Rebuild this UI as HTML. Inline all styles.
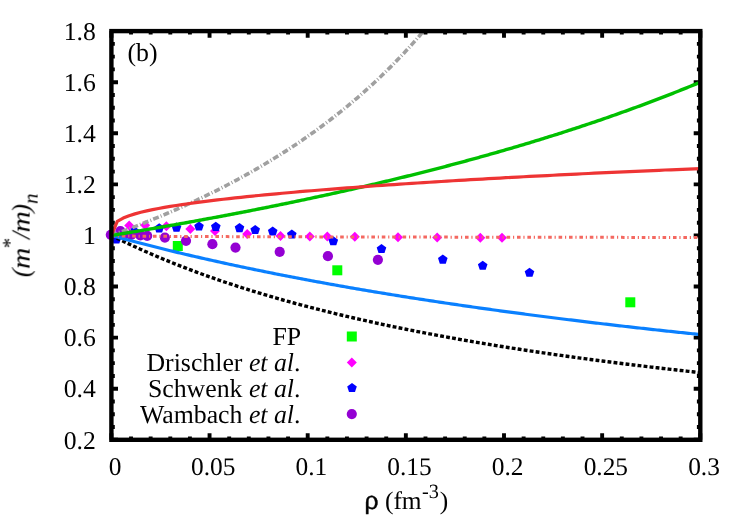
<!DOCTYPE html>
<html><head><meta charset="utf-8"><title>chart</title>
<style>html,body{margin:0;padding:0;background:#fff;}svg{display:block;}text{font-family:"Liberation Serif",serif;fill:#000;text-rendering:geometricPrecision;}</style></head><body>
<svg width="747" height="523" viewBox="0 0 747 523">
<rect width="747" height="523" fill="#fff"/>
<defs><clipPath id="c"><rect x="103.40" y="31.10" width="596.90" height="408.70"/></clipPath></defs>
<path d="M111.40,439.80 v-6.60 M111.40,31.10 v6.60 M131.03,439.80 v-3.40 M131.03,31.10 v3.40 M150.66,439.80 v-3.40 M150.66,31.10 v3.40 M170.29,439.80 v-3.40 M170.29,31.10 v3.40 M189.92,439.80 v-3.40 M189.92,31.10 v3.40 M209.55,439.80 v-6.60 M209.55,31.10 v6.60 M229.18,439.80 v-3.40 M229.18,31.10 v3.40 M248.81,439.80 v-3.40 M248.81,31.10 v3.40 M268.44,439.80 v-3.40 M268.44,31.10 v3.40 M288.07,439.80 v-3.40 M288.07,31.10 v3.40 M307.70,439.80 v-6.60 M307.70,31.10 v6.60 M327.33,439.80 v-3.40 M327.33,31.10 v3.40 M346.96,439.80 v-3.40 M346.96,31.10 v3.40 M366.59,439.80 v-3.40 M366.59,31.10 v3.40 M386.22,439.80 v-3.40 M386.22,31.10 v3.40 M405.85,439.80 v-6.60 M405.85,31.10 v6.60 M425.48,439.80 v-3.40 M425.48,31.10 v3.40 M445.11,439.80 v-3.40 M445.11,31.10 v3.40 M464.74,439.80 v-3.40 M464.74,31.10 v3.40 M484.37,439.80 v-3.40 M484.37,31.10 v3.40 M504.00,439.80 v-6.60 M504.00,31.10 v6.60 M523.63,439.80 v-3.40 M523.63,31.10 v3.40 M543.26,439.80 v-3.40 M543.26,31.10 v3.40 M562.89,439.80 v-3.40 M562.89,31.10 v3.40 M582.52,439.80 v-3.40 M582.52,31.10 v3.40 M602.15,439.80 v-6.60 M602.15,31.10 v6.60 M621.78,439.80 v-3.40 M621.78,31.10 v3.40 M641.41,439.80 v-3.40 M641.41,31.10 v3.40 M661.04,439.80 v-3.40 M661.04,31.10 v3.40 M680.67,439.80 v-3.40 M680.67,31.10 v3.40 M700.30,439.80 v-6.60 M700.30,31.10 v6.60 M111.40,439.80 h6.60 M700.30,439.80 h-6.60 M111.40,427.03 h3.40 M700.30,427.03 h-3.40 M111.40,414.26 h3.40 M700.30,414.26 h-3.40 M111.40,401.48 h3.40 M700.30,401.48 h-3.40 M111.40,388.71 h6.60 M700.30,388.71 h-6.60 M111.40,375.94 h3.40 M700.30,375.94 h-3.40 M111.40,363.17 h3.40 M700.30,363.17 h-3.40 M111.40,350.40 h3.40 M700.30,350.40 h-3.40 M111.40,337.62 h6.60 M700.30,337.62 h-6.60 M111.40,324.85 h3.40 M700.30,324.85 h-3.40 M111.40,312.08 h3.40 M700.30,312.08 h-3.40 M111.40,299.31 h3.40 M700.30,299.31 h-3.40 M111.40,286.54 h6.60 M700.30,286.54 h-6.60 M111.40,273.77 h3.40 M700.30,273.77 h-3.40 M111.40,260.99 h3.40 M700.30,260.99 h-3.40 M111.40,248.22 h3.40 M700.30,248.22 h-3.40 M111.40,235.45 h6.60 M700.30,235.45 h-6.60 M111.40,222.68 h3.40 M700.30,222.68 h-3.40 M111.40,209.91 h3.40 M700.30,209.91 h-3.40 M111.40,197.13 h3.40 M700.30,197.13 h-3.40 M111.40,184.36 h6.60 M700.30,184.36 h-6.60 M111.40,171.59 h3.40 M700.30,171.59 h-3.40 M111.40,158.82 h3.40 M700.30,158.82 h-3.40 M111.40,146.05 h3.40 M700.30,146.05 h-3.40 M111.40,133.27 h6.60 M700.30,133.27 h-6.60 M111.40,120.50 h3.40 M700.30,120.50 h-3.40 M111.40,107.73 h3.40 M700.30,107.73 h-3.40 M111.40,94.96 h3.40 M700.30,94.96 h-3.40 M111.40,82.19 h6.60 M700.30,82.19 h-6.60 M111.40,69.42 h3.40 M700.30,69.42 h-3.40 M111.40,56.64 h3.40 M700.30,56.64 h-3.40 M111.40,43.87 h3.40 M700.30,43.87 h-3.40 M111.40,31.10 h6.60 M700.30,31.10 h-6.60" stroke="#000" stroke-width="3.9" fill="none"/>
<g clip-path="url(#c)">
<rect x="172.80" y="241.00" width="10.00" height="10.00" fill="#00ff00"/>
<rect x="332.30" y="265.30" width="10.00" height="10.00" fill="#00ff00"/>
<rect x="625.30" y="297.30" width="10.00" height="10.00" fill="#00ff00"/>
<path d="M129.20,220.60 L134.20,225.60 L129.20,230.60 L124.20,225.60 Z" fill="#ff00ff"/>
<path d="M145.20,220.20 L150.20,225.20 L145.20,230.20 L140.20,225.20 Z" fill="#ff00ff"/>
<path d="M166.40,221.20 L171.40,226.20 L166.40,231.20 L161.40,226.20 Z" fill="#ff00ff"/>
<path d="M190.30,224.10 L195.30,229.10 L190.30,234.10 L185.30,229.10 Z" fill="#ff00ff"/>
<path d="M215.00,226.10 L220.00,231.10 L215.00,236.10 L210.00,231.10 Z" fill="#ff00ff"/>
<path d="M247.20,229.10 L252.20,234.10 L247.20,239.10 L242.20,234.10 Z" fill="#ff00ff"/>
<path d="M280.50,231.10 L285.50,236.10 L280.50,241.10 L275.50,236.10 Z" fill="#ff00ff"/>
<path d="M309.80,231.50 L314.80,236.50 L309.80,241.50 L304.80,236.50 Z" fill="#ff00ff"/>
<path d="M327.30,231.50 L332.30,236.50 L327.30,241.50 L322.30,236.50 Z" fill="#ff00ff"/>
<path d="M354.80,231.70 L359.80,236.70 L354.80,241.70 L349.80,236.70 Z" fill="#ff00ff"/>
<path d="M398.00,232.20 L403.00,237.20 L398.00,242.20 L393.00,237.20 Z" fill="#ff00ff"/>
<path d="M437.20,232.60 L442.20,237.60 L437.20,242.60 L432.20,237.60 Z" fill="#ff00ff"/>
<path d="M480.30,232.80 L485.30,237.80 L480.30,242.80 L475.30,237.80 Z" fill="#ff00ff"/>
<path d="M502.00,232.80 L507.00,237.80 L502.00,242.80 L497.00,237.80 Z" fill="#ff00ff"/>
<path d="M116.40,234.25 L121.20,237.74 L119.37,243.39 L113.43,243.39 L111.60,237.74 Z" fill="#0000ff"/>
<path d="M134.20,226.35 L139.00,229.84 L137.17,235.49 L131.23,235.49 L129.40,229.84 Z" fill="#0000ff"/>
<path d="M159.20,223.35 L164.00,226.84 L162.17,232.49 L156.23,232.49 L154.40,226.84 Z" fill="#0000ff"/>
<path d="M176.50,222.55 L181.30,226.04 L179.47,231.69 L173.53,231.69 L171.70,226.04 Z" fill="#0000ff"/>
<path d="M199.00,221.45 L203.80,224.94 L201.97,230.59 L196.03,230.59 L194.20,224.94 Z" fill="#0000ff"/>
<path d="M215.80,221.85 L220.60,225.34 L218.77,230.99 L212.83,230.99 L211.00,225.34 Z" fill="#0000ff"/>
<path d="M239.50,223.05 L244.30,226.54 L242.47,232.19 L236.53,232.19 L234.70,226.54 Z" fill="#0000ff"/>
<path d="M255.20,224.95 L260.00,228.44 L258.17,234.09 L252.23,234.09 L250.40,228.44 Z" fill="#0000ff"/>
<path d="M272.70,226.45 L277.50,229.94 L275.67,235.59 L269.73,235.59 L267.90,229.94 Z" fill="#0000ff"/>
<path d="M291.80,229.45 L296.60,232.94 L294.77,238.59 L288.83,238.59 L287.00,232.94 Z" fill="#0000ff"/>
<path d="M333.30,236.15 L338.10,239.64 L336.27,245.29 L330.33,245.29 L328.50,239.64 Z" fill="#0000ff"/>
<path d="M381.50,243.95 L386.30,247.44 L384.47,253.09 L378.53,253.09 L376.70,247.44 Z" fill="#0000ff"/>
<path d="M442.80,254.55 L447.60,258.04 L445.77,263.69 L439.83,263.69 L438.00,258.04 Z" fill="#0000ff"/>
<path d="M482.70,260.65 L487.50,264.14 L485.67,269.79 L479.73,269.79 L477.90,264.14 Z" fill="#0000ff"/>
<path d="M529.50,267.65 L534.30,271.14 L532.47,276.79 L526.53,276.79 L524.70,271.14 Z" fill="#0000ff"/>
<circle cx="110.80" cy="234.80" r="5.10" fill="#9400d3"/>
<circle cx="120.40" cy="231.00" r="5.10" fill="#9400d3"/>
<circle cx="124.00" cy="234.60" r="5.10" fill="#9400d3"/>
<circle cx="131.20" cy="235.00" r="5.10" fill="#9400d3"/>
<circle cx="140.30" cy="235.30" r="5.10" fill="#9400d3"/>
<circle cx="147.20" cy="235.80" r="5.10" fill="#9400d3"/>
<circle cx="164.90" cy="237.60" r="5.10" fill="#9400d3"/>
<circle cx="186.00" cy="240.80" r="5.10" fill="#9400d3"/>
<circle cx="212.40" cy="244.20" r="5.10" fill="#9400d3"/>
<circle cx="235.50" cy="247.60" r="5.10" fill="#9400d3"/>
<circle cx="279.70" cy="251.80" r="5.10" fill="#9400d3"/>
<circle cx="327.90" cy="256.20" r="5.10" fill="#9400d3"/>
<circle cx="377.90" cy="259.80" r="5.10" fill="#9400d3"/>
</g>
<g clip-path="url(#c)" fill="none">
<path d="M111.40,235.45 L113.36,234.73 L115.33,234.01 L117.29,233.29 L119.25,232.56 L121.22,231.83 L123.18,231.09 L125.14,230.35 L127.10,229.61 L129.07,228.86 L131.03,228.11 L132.99,227.35 L134.96,226.59 L136.92,225.82 L138.88,225.05 L140.84,224.27 L142.81,223.49 L144.77,222.71 L146.73,221.92 L148.70,221.12 L150.66,220.33 L152.62,219.52 L154.59,218.71 L156.55,217.90 L158.51,217.08 L160.48,216.26 L162.44,215.43 L164.40,214.60 L166.36,213.76 L168.33,212.92 L170.29,212.07 L172.25,211.22 L174.22,210.36 L176.18,209.50 L178.14,208.63 L180.11,207.75 L182.07,206.87 L184.03,205.99 L185.99,205.10 L187.96,204.20 L189.92,203.30 L191.88,202.39 L193.85,201.48 L195.81,200.56 L197.77,199.63 L199.74,198.70 L201.70,197.76 L203.66,196.82 L205.62,195.87 L207.59,194.92 L209.55,193.95 L211.51,192.99 L213.48,192.01 L215.44,191.03 L217.40,190.04 L219.37,189.05 L221.33,188.05 L223.29,187.04 L225.25,186.03 L227.22,185.01 L229.18,183.98 L231.14,182.95 L233.11,181.91 L235.07,180.86 L237.03,179.80 L239.00,178.74 L240.96,177.67 L242.92,176.59 L244.88,175.51 L246.85,174.42 L248.81,173.32 L250.77,172.21 L252.74,171.09 L254.70,169.97 L256.66,168.84 L258.62,167.70 L260.59,166.56 L262.55,165.40 L264.51,164.24 L266.48,163.07 L268.44,161.89 L270.40,160.70 L272.37,159.50 L274.33,158.29 L276.29,157.08 L278.25,155.85 L280.22,154.62 L282.18,153.38 L284.14,152.13 L286.11,150.87 L288.07,149.60 L290.03,148.32 L292.00,147.03 L293.96,145.73 L295.92,144.42 L297.88,143.11 L299.85,141.78 L301.81,140.44 L303.77,139.09 L305.74,137.73 L307.70,136.36 L309.66,134.98 L311.63,133.59 L313.59,132.18 L315.55,130.77 L317.51,129.35 L319.48,127.91 L321.44,126.46 L323.40,125.00 L325.37,123.53 L327.33,122.05 L329.29,120.56 L331.26,119.05 L333.22,117.53 L335.18,116.00 L337.14,114.46 L339.11,112.90 L341.07,111.33 L343.03,109.75 L345.00,108.15 L346.96,106.54 L348.92,104.92 L350.89,103.28 L352.85,101.63 L354.81,99.96 L356.77,98.28 L358.74,96.59 L360.70,94.88 L362.66,93.16 L364.63,91.42 L366.59,89.67 L368.55,87.90 L370.52,86.11 L372.48,84.31 L374.44,82.49 L376.41,80.66 L378.37,78.81 L380.33,76.95 L382.29,75.06 L384.26,73.16 L386.22,71.24 L388.18,69.31 L390.15,67.35 L392.11,65.38 L394.07,63.39 L396.03,61.38 L398.00,59.35 L399.96,57.31 L401.92,55.24 L403.89,53.15 L405.85,51.05 L407.81,48.92 L409.78,46.77 L411.74,44.60 L413.70,42.41 L415.66,40.20 L417.63,37.97 L419.59,35.71 L421.55,33.43 L423.52,31.13 L425.48,28.81 L427.44,26.46" stroke="#a0a0a0" stroke-width="3.6" stroke-dasharray="6 2.1 1 2.1"/>
<path d="M111.40,235.45 L113.36,236.43 L115.33,237.41 L117.29,238.38 L119.25,239.34 L121.22,240.29 L123.18,241.24 L125.14,242.18 L127.10,243.11 L129.07,244.04 L131.03,244.96 L132.99,245.87 L134.96,246.77 L136.92,247.67 L138.88,248.57 L140.84,249.45 L142.81,250.33 L144.77,251.20 L146.73,252.07 L148.70,252.93 L150.66,253.78 L152.62,254.63 L154.59,255.47 L156.55,256.31 L158.51,257.14 L160.48,257.96 L162.44,258.78 L164.40,259.59 L166.36,260.40 L168.33,261.20 L170.29,262.00 L172.25,262.79 L174.22,263.57 L176.18,264.35 L178.14,265.13 L180.11,265.89 L182.07,266.66 L184.03,267.42 L185.99,268.17 L187.96,268.92 L189.92,269.66 L191.88,270.40 L193.85,271.13 L195.81,271.86 L197.77,272.58 L199.74,273.30 L201.70,274.02 L203.66,274.73 L205.62,275.43 L207.59,276.13 L209.55,276.83 L211.51,277.52 L213.48,278.21 L215.44,278.89 L217.40,279.57 L219.37,280.24 L221.33,280.91 L223.29,281.57 L225.25,282.24 L227.22,282.89 L229.18,283.55 L231.14,284.19 L233.11,284.84 L235.07,285.48 L237.03,286.12 L239.00,286.75 L240.96,287.38 L242.92,288.00 L244.88,288.62 L246.85,289.24 L248.81,289.85 L250.77,290.46 L252.74,291.07 L254.70,291.67 L256.66,292.27 L258.62,292.87 L260.59,293.46 L262.55,294.05 L264.51,294.63 L266.48,295.21 L268.44,295.79 L270.40,296.36 L272.37,296.94 L274.33,297.50 L276.29,298.07 L278.25,298.63 L280.22,299.19 L282.18,299.74 L284.14,300.29 L286.11,300.84 L288.07,301.39 L290.03,301.93 L292.00,302.47 L293.96,303.00 L295.92,303.53 L297.88,304.06 L299.85,304.59 L301.81,305.12 L303.77,305.64 L305.74,306.15 L307.70,306.67 L309.66,307.18 L311.63,307.69 L313.59,308.20 L315.55,308.70 L317.51,309.20 L319.48,309.70 L321.44,310.20 L323.40,310.69 L325.37,311.18 L327.33,311.67 L329.29,312.15 L331.26,312.63 L333.22,313.11 L335.18,313.59 L337.14,314.06 L339.11,314.54 L341.07,315.01 L343.03,315.47 L345.00,315.94 L346.96,316.40 L348.92,316.86 L350.89,317.32 L352.85,317.77 L354.81,318.22 L356.77,318.67 L358.74,319.12 L360.70,319.57 L362.66,320.01 L364.63,320.45 L366.59,320.89 L368.55,321.32 L370.52,321.76 L372.48,322.19 L374.44,322.62 L376.41,323.05 L378.37,323.47 L380.33,323.90 L382.29,324.32 L384.26,324.74 L386.22,325.15 L388.18,325.57 L390.15,325.98 L392.11,326.39 L394.07,326.80 L396.03,327.21 L398.00,327.61 L399.96,328.01 L401.92,328.41 L403.89,328.81 L405.85,329.21 L407.81,329.60 L409.78,330.00 L411.74,330.39 L413.70,330.78 L415.66,331.16 L417.63,331.55 L419.59,331.93 L421.55,332.31 L423.52,332.69 L425.48,333.07 L427.44,333.45 L429.41,333.82 L431.37,334.19 L433.33,334.56 L435.29,334.93 L437.26,335.30 L439.22,335.67 L441.18,336.03 L443.15,336.39 L445.11,336.75 L447.07,337.11 L449.04,337.47 L451.00,337.82 L452.96,338.18 L454.92,338.53 L456.89,338.88 L458.85,339.23 L460.81,339.58 L462.78,339.92 L464.74,340.27 L466.70,340.61 L468.67,340.95 L470.63,341.29 L472.59,341.63 L474.56,341.96 L476.52,342.30 L478.48,342.63 L480.44,342.96 L482.41,343.29 L484.37,343.62 L486.33,343.95 L488.30,344.28 L490.26,344.60 L492.22,344.92 L494.19,345.25 L496.15,345.57 L498.11,345.88 L500.07,346.20 L502.04,346.52 L504.00,346.83 L505.96,347.15 L507.93,347.46 L509.89,347.77 L511.85,348.08 L513.81,348.39 L515.78,348.69 L517.74,349.00 L519.70,349.30 L521.67,349.61 L523.63,349.91 L525.59,350.21 L527.56,350.51 L529.52,350.80 L531.48,351.10 L533.44,351.39 L535.41,351.69 L537.37,351.98 L539.33,352.27 L541.30,352.56 L543.26,352.85 L545.22,353.14 L547.19,353.43 L549.15,353.71 L551.11,354.00 L553.08,354.28 L555.04,354.56 L557.00,354.84 L558.96,355.12 L560.93,355.40 L562.89,355.68 L564.85,355.95 L566.82,356.23 L568.78,356.50 L570.74,356.77 L572.70,357.05 L574.67,357.32 L576.63,357.59 L578.59,357.85 L580.56,358.12 L582.52,358.39 L584.48,358.65 L586.45,358.92 L588.41,359.18 L590.37,359.44 L592.34,359.70 L594.30,359.96 L596.26,360.22 L598.22,360.48 L600.19,360.74 L602.15,360.99 L604.11,361.25 L606.08,361.50 L608.04,361.75 L610.00,362.01 L611.97,362.26 L613.93,362.51 L615.89,362.76 L617.85,363.00 L619.82,363.25 L621.78,363.50 L623.74,363.74 L625.71,363.99 L627.67,364.23 L629.63,364.47 L631.60,364.71 L633.56,364.95 L635.52,365.19 L637.48,365.43 L639.45,365.67 L641.41,365.91 L643.37,366.14 L645.34,366.38 L647.30,366.61 L649.26,366.85 L651.23,367.08 L653.19,367.31 L655.15,367.54 L657.11,367.77 L659.08,368.00 L661.04,368.23 L663.00,368.45 L664.97,368.68 L666.93,368.91 L668.89,369.13 L670.85,369.36 L672.82,369.58 L674.78,369.80 L676.74,370.02 L678.71,370.24 L680.67,370.46 L682.63,370.68 L684.60,370.90 L686.56,371.12 L688.52,371.33 L690.48,371.55 L692.45,371.77 L694.41,371.98 L696.37,372.19 L698.34,372.41 L700.30,372.62" stroke="#000" stroke-width="3.4" stroke-dasharray="3.85 2.2"/>
<path d="M111.40,235.45 L113.36,235.99 L115.33,236.52 L117.29,237.06 L119.25,237.59 L121.22,238.12 L123.18,238.65 L125.14,239.17 L127.10,239.70 L129.07,240.22 L131.03,240.74 L132.99,241.25 L134.96,241.77 L136.92,242.28 L138.88,242.79 L140.84,243.30 L142.81,243.80 L144.77,244.31 L146.73,244.81 L148.70,245.31 L150.66,245.81 L152.62,246.30 L154.59,246.80 L156.55,247.29 L158.51,247.78 L160.48,248.27 L162.44,248.75 L164.40,249.24 L166.36,249.72 L168.33,250.20 L170.29,250.68 L172.25,251.15 L174.22,251.63 L176.18,252.10 L178.14,252.57 L180.11,253.04 L182.07,253.51 L184.03,253.97 L185.99,254.44 L187.96,254.90 L189.92,255.36 L191.88,255.82 L193.85,256.27 L195.81,256.73 L197.77,257.18 L199.74,257.63 L201.70,258.08 L203.66,258.53 L205.62,258.97 L207.59,259.42 L209.55,259.86 L211.51,260.30 L213.48,260.74 L215.44,261.18 L217.40,261.61 L219.37,262.04 L221.33,262.48 L223.29,262.91 L225.25,263.34 L227.22,263.76 L229.18,264.19 L231.14,264.61 L233.11,265.04 L235.07,265.46 L237.03,265.88 L239.00,266.30 L240.96,266.71 L242.92,267.13 L244.88,267.54 L246.85,267.95 L248.81,268.36 L250.77,268.77 L252.74,269.18 L254.70,269.59 L256.66,269.99 L258.62,270.39 L260.59,270.79 L262.55,271.19 L264.51,271.59 L266.48,271.99 L268.44,272.39 L270.40,272.78 L272.37,273.17 L274.33,273.56 L276.29,273.95 L278.25,274.34 L280.22,274.73 L282.18,275.12 L284.14,275.50 L286.11,275.88 L288.07,276.26 L290.03,276.65 L292.00,277.02 L293.96,277.40 L295.92,277.78 L297.88,278.15 L299.85,278.53 L301.81,278.90 L303.77,279.27 L305.74,279.64 L307.70,280.01 L309.66,280.38 L311.63,280.74 L313.59,281.11 L315.55,281.47 L317.51,281.83 L319.48,282.19 L321.44,282.55 L323.40,282.91 L325.37,283.27 L327.33,283.62 L329.29,283.98 L331.26,284.33 L333.22,284.68 L335.18,285.04 L337.14,285.39 L339.11,285.73 L341.07,286.08 L343.03,286.43 L345.00,286.77 L346.96,287.12 L348.92,287.46 L350.89,287.80 L352.85,288.14 L354.81,288.48 L356.77,288.82 L358.74,289.16 L360.70,289.49 L362.66,289.83 L364.63,290.16 L366.59,290.50 L368.55,290.83 L370.52,291.16 L372.48,291.49 L374.44,291.82 L376.41,292.14 L378.37,292.47 L380.33,292.79 L382.29,293.12 L384.26,293.44 L386.22,293.76 L388.18,294.08 L390.15,294.40 L392.11,294.72 L394.07,295.04 L396.03,295.36 L398.00,295.67 L399.96,295.99 L401.92,296.30 L403.89,296.61 L405.85,296.93 L407.81,297.24 L409.78,297.55 L411.74,297.86 L413.70,298.16 L415.66,298.47 L417.63,298.78 L419.59,299.08 L421.55,299.38 L423.52,299.69 L425.48,299.99 L427.44,300.29 L429.41,300.59 L431.37,300.89 L433.33,301.19 L435.29,301.48 L437.26,301.78 L439.22,302.08 L441.18,302.37 L443.15,302.66 L445.11,302.96 L447.07,303.25 L449.04,303.54 L451.00,303.83 L452.96,304.12 L454.92,304.41 L456.89,304.69 L458.85,304.98 L460.81,305.27 L462.78,305.55 L464.74,305.83 L466.70,306.12 L468.67,306.40 L470.63,306.68 L472.59,306.96 L474.56,307.24 L476.52,307.52 L478.48,307.80 L480.44,308.07 L482.41,308.35 L484.37,308.62 L486.33,308.90 L488.30,309.17 L490.26,309.44 L492.22,309.72 L494.19,309.99 L496.15,310.26 L498.11,310.53 L500.07,310.80 L502.04,311.06 L504.00,311.33 L505.96,311.60 L507.93,311.86 L509.89,312.13 L511.85,312.39 L513.81,312.65 L515.78,312.92 L517.74,313.18 L519.70,313.44 L521.67,313.70 L523.63,313.96 L525.59,314.22 L527.56,314.48 L529.52,314.73 L531.48,314.99 L533.44,315.24 L535.41,315.50 L537.37,315.75 L539.33,316.01 L541.30,316.26 L543.26,316.51 L545.22,316.76 L547.19,317.01 L549.15,317.26 L551.11,317.51 L553.08,317.76 L555.04,318.01 L557.00,318.25 L558.96,318.50 L560.93,318.75 L562.89,318.99 L564.85,319.23 L566.82,319.48 L568.78,319.72 L570.74,319.96 L572.70,320.20 L574.67,320.44 L576.63,320.68 L578.59,320.92 L580.56,321.16 L582.52,321.40 L584.48,321.64 L586.45,321.87 L588.41,322.11 L590.37,322.35 L592.34,322.58 L594.30,322.81 L596.26,323.05 L598.22,323.28 L600.19,323.51 L602.15,323.74 L604.11,323.97 L606.08,324.20 L608.04,324.43 L610.00,324.66 L611.97,324.89 L613.93,325.12 L615.89,325.35 L617.85,325.57 L619.82,325.80 L621.78,326.02 L623.74,326.25 L625.71,326.47 L627.67,326.69 L629.63,326.92 L631.60,327.14 L633.56,327.36 L635.52,327.58 L637.48,327.80 L639.45,328.02 L641.41,328.24 L643.37,328.46 L645.34,328.68 L647.30,328.90 L649.26,329.11 L651.23,329.33 L653.19,329.54 L655.15,329.76 L657.11,329.97 L659.08,330.19 L661.04,330.40 L663.00,330.61 L664.97,330.83 L666.93,331.04 L668.89,331.25 L670.85,331.46 L672.82,331.67 L674.78,331.88 L676.74,332.09 L678.71,332.30 L680.67,332.50 L682.63,332.71 L684.60,332.92 L686.56,333.12 L688.52,333.33 L690.48,333.53 L692.45,333.74 L694.41,333.94 L696.37,334.15 L698.34,334.35 L700.30,334.55" stroke="#0a80ff" stroke-width="3.2"/>
<path d="M111.40,235.45 L113.36,235.75 L115.33,235.83 L117.29,235.88 L119.25,235.93 L121.22,235.97 L123.18,236.00 L125.14,236.03 L127.10,236.05 L129.07,236.08 L131.03,236.10 L132.99,236.12 L134.96,236.14 L136.92,236.16 L138.88,236.18 L140.84,236.19 L142.81,236.21 L144.77,236.23 L146.73,236.24 L148.70,236.25 L150.66,236.27 L152.62,236.28 L154.59,236.29 L156.55,236.31 L158.51,236.32 L160.48,236.33 L162.44,236.34 L164.40,236.35 L166.36,236.37 L168.33,236.38 L170.29,236.39 L172.25,236.40 L174.22,236.41 L176.18,236.42 L178.14,236.43 L180.11,236.44 L182.07,236.45 L184.03,236.45 L185.99,236.46 L187.96,236.47 L189.92,236.48 L191.88,236.49 L193.85,236.50 L195.81,236.51 L197.77,236.51 L199.74,236.52 L201.70,236.53 L203.66,236.54 L205.62,236.55 L207.59,236.55 L209.55,236.56 L211.51,236.57 L213.48,236.58 L215.44,236.58 L217.40,236.59 L219.37,236.60 L221.33,236.60 L223.29,236.61 L225.25,236.62 L227.22,236.62 L229.18,236.63 L231.14,236.64 L233.11,236.64 L235.07,236.65 L237.03,236.66 L239.00,236.66 L240.96,236.67 L242.92,236.67 L244.88,236.68 L246.85,236.69 L248.81,236.69 L250.77,236.70 L252.74,236.70 L254.70,236.71 L256.66,236.72 L258.62,236.72 L260.59,236.73 L262.55,236.73 L264.51,236.74 L266.48,236.74 L268.44,236.75 L270.40,236.75 L272.37,236.76 L274.33,236.76 L276.29,236.77 L278.25,236.78 L280.22,236.78 L282.18,236.79 L284.14,236.79 L286.11,236.80 L288.07,236.80 L290.03,236.81 L292.00,236.81 L293.96,236.82 L295.92,236.82 L297.88,236.83 L299.85,236.83 L301.81,236.83 L303.77,236.84 L305.74,236.84 L307.70,236.85 L309.66,236.85 L311.63,236.86 L313.59,236.86 L315.55,236.87 L317.51,236.87 L319.48,236.88 L321.44,236.88 L323.40,236.89 L325.37,236.89 L327.33,236.89 L329.29,236.90 L331.26,236.90 L333.22,236.91 L335.18,236.91 L337.14,236.92 L339.11,236.92 L341.07,236.92 L343.03,236.93 L345.00,236.93 L346.96,236.94 L348.92,236.94 L350.89,236.94 L352.85,236.95 L354.81,236.95 L356.77,236.96 L358.74,236.96 L360.70,236.97 L362.66,236.97 L364.63,236.97 L366.59,236.98 L368.55,236.98 L370.52,236.98 L372.48,236.99 L374.44,236.99 L376.41,237.00 L378.37,237.00 L380.33,237.00 L382.29,237.01 L384.26,237.01 L386.22,237.02 L388.18,237.02 L390.15,237.02 L392.11,237.03 L394.07,237.03 L396.03,237.03 L398.00,237.04 L399.96,237.04 L401.92,237.04 L403.89,237.05 L405.85,237.05 L407.81,237.06 L409.78,237.06 L411.74,237.06 L413.70,237.07 L415.66,237.07 L417.63,237.07 L419.59,237.08 L421.55,237.08 L423.52,237.08 L425.48,237.09 L427.44,237.09 L429.41,237.09 L431.37,237.10 L433.33,237.10 L435.29,237.10 L437.26,237.11 L439.22,237.11 L441.18,237.11 L443.15,237.12 L445.11,237.12 L447.07,237.12 L449.04,237.13 L451.00,237.13 L452.96,237.13 L454.92,237.14 L456.89,237.14 L458.85,237.14 L460.81,237.15 L462.78,237.15 L464.74,237.15 L466.70,237.16 L468.67,237.16 L470.63,237.16 L472.59,237.16 L474.56,237.17 L476.52,237.17 L478.48,237.17 L480.44,237.18 L482.41,237.18 L484.37,237.18 L486.33,237.19 L488.30,237.19 L490.26,237.19 L492.22,237.19 L494.19,237.20 L496.15,237.20 L498.11,237.20 L500.07,237.21 L502.04,237.21 L504.00,237.21 L505.96,237.22 L507.93,237.22 L509.89,237.22 L511.85,237.22 L513.81,237.23 L515.78,237.23 L517.74,237.23 L519.70,237.24 L521.67,237.24 L523.63,237.24 L525.59,237.24 L527.56,237.25 L529.52,237.25 L531.48,237.25 L533.44,237.26 L535.41,237.26 L537.37,237.26 L539.33,237.26 L541.30,237.27 L543.26,237.27 L545.22,237.27 L547.19,237.28 L549.15,237.28 L551.11,237.28 L553.08,237.28 L555.04,237.29 L557.00,237.29 L558.96,237.29 L560.93,237.29 L562.89,237.30 L564.85,237.30 L566.82,237.30 L568.78,237.30 L570.74,237.31 L572.70,237.31 L574.67,237.31 L576.63,237.32 L578.59,237.32 L580.56,237.32 L582.52,237.32 L584.48,237.33 L586.45,237.33 L588.41,237.33 L590.37,237.33 L592.34,237.34 L594.30,237.34 L596.26,237.34 L598.22,237.34 L600.19,237.35 L602.15,237.35 L604.11,237.35 L606.08,237.35 L608.04,237.36 L610.00,237.36 L611.97,237.36 L613.93,237.36 L615.89,237.37 L617.85,237.37 L619.82,237.37 L621.78,237.37 L623.74,237.38 L625.71,237.38 L627.67,237.38 L629.63,237.38 L631.60,237.39 L633.56,237.39 L635.52,237.39 L637.48,237.39 L639.45,237.40 L641.41,237.40 L643.37,237.40 L645.34,237.40 L647.30,237.41 L649.26,237.41 L651.23,237.41 L653.19,237.41 L655.15,237.41 L657.11,237.42 L659.08,237.42 L661.04,237.42 L663.00,237.42 L664.97,237.43 L666.93,237.43 L668.89,237.43 L670.85,237.43 L672.82,237.44 L674.78,237.44 L676.74,237.44 L678.71,237.44 L680.67,237.45 L682.63,237.45 L684.60,237.45 L686.56,237.45 L688.52,237.45 L690.48,237.46 L692.45,237.46 L694.41,237.46 L696.37,237.46 L698.34,237.47 L700.30,237.47" stroke="#f46860" stroke-width="3.0" stroke-dasharray="3.6 2.8 1.2 2.8"/>
<path d="M111.40,235.45 L113.36,235.13 L115.33,234.81 L117.29,234.49 L119.25,234.17 L121.22,233.84 L123.18,233.52 L125.14,233.20 L127.10,232.87 L129.07,232.54 L131.03,232.22 L132.99,231.89 L134.96,231.56 L136.92,231.23 L138.88,230.90 L140.84,230.57 L142.81,230.24 L144.77,229.90 L146.73,229.57 L148.70,229.24 L150.66,228.90 L152.62,228.56 L154.59,228.23 L156.55,227.89 L158.51,227.55 L160.48,227.21 L162.44,226.87 L164.40,226.53 L166.36,226.19 L168.33,225.84 L170.29,225.50 L172.25,225.15 L174.22,224.81 L176.18,224.46 L178.14,224.11 L180.11,223.76 L182.07,223.41 L184.03,223.06 L185.99,222.71 L187.96,222.36 L189.92,222.01 L191.88,221.65 L193.85,221.30 L195.81,220.94 L197.77,220.58 L199.74,220.23 L201.70,219.87 L203.66,219.51 L205.62,219.15 L207.59,218.78 L209.55,218.42 L211.51,218.06 L213.48,217.69 L215.44,217.33 L217.40,216.96 L219.37,216.59 L221.33,216.22 L223.29,215.85 L225.25,215.48 L227.22,215.11 L229.18,214.74 L231.14,214.37 L233.11,213.99 L235.07,213.61 L237.03,213.24 L239.00,212.86 L240.96,212.48 L242.92,212.10 L244.88,211.72 L246.85,211.34 L248.81,210.96 L250.77,210.57 L252.74,210.19 L254.70,209.80 L256.66,209.41 L258.62,209.03 L260.59,208.64 L262.55,208.25 L264.51,207.85 L266.48,207.46 L268.44,207.07 L270.40,206.67 L272.37,206.28 L274.33,205.88 L276.29,205.48 L278.25,205.08 L280.22,204.68 L282.18,204.28 L284.14,203.88 L286.11,203.48 L288.07,203.07 L290.03,202.66 L292.00,202.26 L293.96,201.85 L295.92,201.44 L297.88,201.03 L299.85,200.62 L301.81,200.20 L303.77,199.79 L305.74,199.38 L307.70,198.96 L309.66,198.54 L311.63,198.12 L313.59,197.70 L315.55,197.28 L317.51,196.86 L319.48,196.44 L321.44,196.01 L323.40,195.58 L325.37,195.16 L327.33,194.73 L329.29,194.30 L331.26,193.87 L333.22,193.43 L335.18,193.00 L337.14,192.57 L339.11,192.13 L341.07,191.69 L343.03,191.25 L345.00,190.81 L346.96,190.37 L348.92,189.93 L350.89,189.49 L352.85,189.04 L354.81,188.59 L356.77,188.15 L358.74,187.70 L360.70,187.25 L362.66,186.80 L364.63,186.34 L366.59,185.89 L368.55,185.43 L370.52,184.97 L372.48,184.52 L374.44,184.06 L376.41,183.59 L378.37,183.13 L380.33,182.67 L382.29,182.20 L384.26,181.73 L386.22,181.27 L388.18,180.80 L390.15,180.33 L392.11,179.85 L394.07,179.38 L396.03,178.90 L398.00,178.43 L399.96,177.95 L401.92,177.47 L403.89,176.99 L405.85,176.50 L407.81,176.02 L409.78,175.53 L411.74,175.05 L413.70,174.56 L415.66,174.07 L417.63,173.57 L419.59,173.08 L421.55,172.59 L423.52,172.09 L425.48,171.59 L427.44,171.09 L429.41,170.59 L431.37,170.09 L433.33,169.58 L435.29,169.08 L437.26,168.57 L439.22,168.06 L441.18,167.55 L443.15,167.04 L445.11,166.52 L447.07,166.01 L449.04,165.49 L451.00,164.97 L452.96,164.45 L454.92,163.93 L456.89,163.40 L458.85,162.88 L460.81,162.35 L462.78,161.82 L464.74,161.29 L466.70,160.76 L468.67,160.22 L470.63,159.69 L472.59,159.15 L474.56,158.61 L476.52,158.07 L478.48,157.53 L480.44,156.98 L482.41,156.44 L484.37,155.89 L486.33,155.34 L488.30,154.79 L490.26,154.23 L492.22,153.68 L494.19,153.12 L496.15,152.56 L498.11,152.00 L500.07,151.44 L502.04,150.87 L504.00,150.30 L505.96,149.74 L507.93,149.17 L509.89,148.59 L511.85,148.02 L513.81,147.44 L515.78,146.86 L517.74,146.28 L519.70,145.70 L521.67,145.12 L523.63,144.53 L525.59,143.94 L527.56,143.35 L529.52,142.76 L531.48,142.17 L533.44,141.57 L535.41,140.97 L537.37,140.37 L539.33,139.77 L541.30,139.17 L543.26,138.56 L545.22,137.95 L547.19,137.34 L549.15,136.73 L551.11,136.11 L553.08,135.50 L555.04,134.88 L557.00,134.26 L558.96,133.63 L560.93,133.01 L562.89,132.38 L564.85,131.75 L566.82,131.12 L568.78,130.48 L570.74,129.85 L572.70,129.21 L574.67,128.56 L576.63,127.92 L578.59,127.28 L580.56,126.63 L582.52,125.98 L584.48,125.32 L586.45,124.67 L588.41,124.01 L590.37,123.35 L592.34,122.69 L594.30,122.02 L596.26,121.36 L598.22,120.69 L600.19,120.02 L602.15,119.34 L604.11,118.67 L606.08,117.99 L608.04,117.30 L610.00,116.62 L611.97,115.93 L613.93,115.24 L615.89,114.55 L617.85,113.86 L619.82,113.16 L621.78,112.46 L623.74,111.76 L625.71,111.05 L627.67,110.35 L629.63,109.64 L631.60,108.92 L633.56,108.21 L635.52,107.49 L637.48,106.77 L639.45,106.05 L641.41,105.32 L643.37,104.59 L645.34,103.86 L647.30,103.13 L649.26,102.39 L651.23,101.65 L653.19,100.91 L655.15,100.16 L657.11,99.41 L659.08,98.66 L661.04,97.91 L663.00,97.15 L664.97,96.39 L666.93,95.63 L668.89,94.86 L670.85,94.09 L672.82,93.32 L674.78,92.54 L676.74,91.77 L678.71,90.99 L680.67,90.20 L682.63,89.41 L684.60,88.62 L686.56,87.83 L688.52,87.03 L690.48,86.23 L692.45,85.43 L694.41,84.63 L696.37,83.82 L698.34,83.00 L700.30,82.19" stroke="#00c000" stroke-width="3.4"/>
<path d="M111.40,235.45 L117.29,221.37 L123.18,218.04 L129.07,215.71 L134.96,213.85 L140.84,212.27 L146.73,210.88 L152.62,209.62 L158.51,208.47 L164.40,207.40 L170.29,206.40 L176.18,205.46 L182.07,204.57 L187.96,203.71 L193.85,202.90 L199.74,202.11 L205.62,201.36 L211.51,200.63 L217.40,199.92 L223.29,199.24 L229.18,198.57 L235.07,197.93 L240.96,197.30 L246.85,196.68 L252.74,196.08 L258.62,195.49 L264.51,194.92 L270.40,194.36 L276.29,193.81 L282.18,193.27 L288.07,192.74 L293.96,192.22 L299.85,191.71 L305.74,191.21 L311.63,190.72 L317.51,190.23 L323.40,189.76 L329.29,189.29 L335.18,188.82 L341.07,188.37 L346.96,187.92 L352.85,187.48 L358.74,187.04 L364.63,186.61 L370.52,186.19 L376.41,185.77 L382.29,185.35 L388.18,184.95 L394.07,184.54 L399.96,184.14 L405.85,183.75 L411.74,183.36 L417.63,182.98 L423.52,182.60 L429.41,182.23 L435.29,181.86 L441.18,181.49 L447.07,181.13 L452.96,180.77 L458.85,180.42 L464.74,180.07 L470.63,179.72 L476.52,179.38 L482.41,179.04 L488.30,178.70 L494.19,178.37 L500.07,178.04 L505.96,177.72 L511.85,177.39 L517.74,177.07 L523.63,176.76 L529.52,176.45 L535.41,176.14 L541.30,175.83 L547.19,175.53 L553.08,175.23 L558.96,174.93 L564.85,174.63 L570.74,174.34 L576.63,174.05 L582.52,173.77 L588.41,173.48 L594.30,173.20 L600.19,172.92 L606.08,172.65 L611.97,172.37 L617.85,172.10 L623.74,171.84 L629.63,171.57 L635.52,171.31 L641.41,171.05 L647.30,170.79 L653.19,170.53 L659.08,170.28 L664.97,170.02 L670.85,169.78 L676.74,169.53 L682.63,169.28 L688.52,169.04 L694.41,168.80 L700.30,168.56" stroke="#ee3434" stroke-width="3.2" stroke-linejoin="round"/>
</g>
<rect x="111.40" y="31.10" width="588.90" height="408.70" fill="none" stroke="#000" stroke-width="4.40"/>
<g style="opacity:0.999">
<text x="95.8" y="448.50" font-size="25.7" text-anchor="end">0.2</text>
<text x="95.8" y="397.41" font-size="25.7" text-anchor="end">0.4</text>
<text x="95.8" y="346.32" font-size="25.7" text-anchor="end">0.6</text>
<text x="95.8" y="295.24" font-size="25.7" text-anchor="end">0.8</text>
<text x="95.8" y="244.15" font-size="25.7" text-anchor="end">1</text>
<text x="95.8" y="193.06" font-size="25.7" text-anchor="end">1.2</text>
<text x="95.8" y="141.97" font-size="25.7" text-anchor="end">1.4</text>
<text x="95.8" y="90.89" font-size="25.7" text-anchor="end">1.6</text>
<text x="95.8" y="39.80" font-size="25.7" text-anchor="end">1.8</text>
<text x="115.10" y="475.0" font-size="25.4" text-anchor="middle">0</text>
<text x="213.25" y="475.0" font-size="25.4" text-anchor="middle">0.05</text>
<text x="311.40" y="475.0" font-size="25.4" text-anchor="middle">0.1</text>
<text x="409.55" y="475.0" font-size="25.4" text-anchor="middle">0.15</text>
<text x="507.70" y="475.0" font-size="25.4" text-anchor="middle">0.2</text>
<text x="605.85" y="475.0" font-size="25.4" text-anchor="middle">0.25</text>
<text x="704.00" y="475.0" font-size="25.4" text-anchor="middle">0.3</text>
<text x="127.4" y="60.6" font-size="25.8">(b)</text>
<text x="300.5" y="345.20" font-size="25.80" text-anchor="end"><tspan dx="0.7">FP</tspan></text>
<text x="300.5" y="371.20" font-size="25.80" text-anchor="end">Drischler <tspan font-style="italic">et al</tspan>.</text>
<text x="300.5" y="397.20" font-size="25.80" text-anchor="end">Schwenk <tspan font-style="italic">et al</tspan>.</text>
<text x="300.5" y="423.20" font-size="25.80" text-anchor="end">Wambach <tspan font-style="italic">et al</tspan>.</text>
<rect x="346.80" y="331.50" width="10.00" height="10.00" fill="#00ff00"/>
<path d="M351.80,357.40 L356.80,362.40 L351.80,367.40 L346.80,362.40 Z" fill="#ff00ff"/>
<path d="M352.00,382.95 L356.80,386.44 L354.97,392.09 L349.03,392.09 L347.20,386.44 Z" fill="#0000ff"/>
<circle cx="351.80" cy="414.10" r="5.10" fill="#9400d3"/>
<text x="364.4" y="508.8" font-size="25.4"><tspan font-family="Liberation Sans" font-size="24.6" stroke="#000" stroke-width="0.45">ρ</tspan><tspan dx="0.2"> (fm</tspan><tspan font-size="20.3" dy="-10.5" dx="0.5">-3</tspan><tspan dy="10.5" dx="0.8">)</tspan></text>
<g transform="translate(29.6,277.2) rotate(-90)"><text x="0.00" y="0.00" font-size="26.0" font-style="italic">(</text><text transform="translate(18.79,0.00) scale(1.130,1)" x="-9.39" y="0" font-size="26.0" font-style="italic">m</text><text x="27.93" y="-13.00" font-size="20.8" font-style="italic">*</text><text x="38.33" y="0.00" font-size="26.0" font-style="italic">/</text><text transform="translate(55.29,0.00) scale(1.130,1)" x="-9.39" y="0" font-size="26.0" font-style="italic">m</text><text x="64.58" y="0.00" font-size="26.0" font-style="italic">)</text><text x="73.14" y="7.60" font-size="20.8" font-style="italic">n</text></g>
</g>
</svg></body></html>
